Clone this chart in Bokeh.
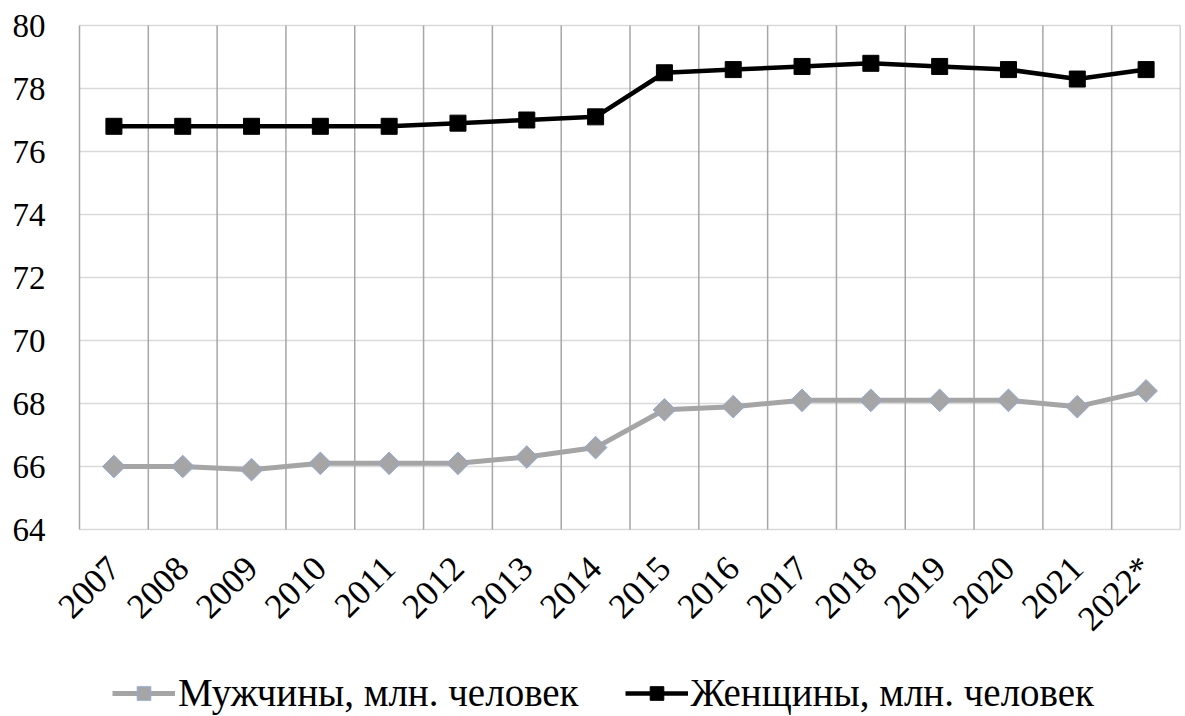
import numpy as np
from bokeh.plotting import figure
from bokeh.models import FixedTicker, Range1d, Legend, LegendItem, LinearAxis
from bokeh.embed import file_html
from bokeh.resources import INLINE

years = ["2007", "2008", "2009", "2010", "2011", "2012", "2013", "2014",
         "2015", "2016", "2017", "2018", "2019", "2020", "2021", "2022*"]
men = [66.0, 66.0, 65.9, 66.1, 66.1, 66.1, 66.3, 66.6,
       67.8, 67.9, 68.1, 68.1, 68.1, 68.1, 67.9, 68.4]
women = [76.8, 76.8, 76.8, 76.8, 76.8, 76.9, 77.0, 77.1,
         78.5, 78.6, 78.7, 78.8, 78.7, 78.6, 78.3, 78.6]
y_ticks = [64, 66, 68, 70, 72, 74, 76, 78, 80]

n = len(years)
x = [i + 0.5 for i in range(n)]
bounds = list(range(n + 1))
y_lo, y_hi = y_ticks[0], y_ticks[-1]
FONT = "Times New Roman, Liberation Serif, DejaVu Serif, serif"

# The frame covers the whole picture so that tick labels and the legend are
# drawn inside it; the value area is 1101 x 504 px starting at (79, 25).
PXU_X = 1101 / n
PXU_Y = 504 / (y_hi - y_lo)
FRAME_W, FRAME_H = 1180, 716
x_start = n - FRAME_W / PXU_X
y_end = y_hi + 25 / PXU_Y
y_start = y_end - FRAME_H / PXU_Y

p = figure(output_backend="svg", toolbar_location=None,
           x_range=Range1d(x_start, n), y_range=Range1d(y_start, y_end),
           frame_width=FRAME_W, frame_height=FRAME_H,
           x_axis_location=None, y_axis_location=None,
           min_border_left=0, min_border_top=0, min_border_right=5,
           min_border_bottom=0)
p.outline_line_color = None
p.background_fill_color = "white"
p.border_fill_color = "white"
p.grid.visible = False

xaxis = LinearAxis(fixed_location=y_lo, ticker=FixedTicker(ticks=x),
                   major_label_overrides={xi: y for xi, y in zip(x, years)},
                   major_label_orientation=np.pi / 4)
yaxis = LinearAxis(fixed_location=0, ticker=FixedTicker(ticks=y_ticks))
p.add_layout(xaxis, "below")
p.add_layout(yaxis, "left")
for ax in (xaxis, yaxis):
    ax.axis_line_color = None
    ax.major_tick_line_color = None
    ax.minor_tick_line_color = None
    ax.major_tick_out = 0
    ax.major_tick_in = 0
    ax.major_label_text_font = FONT
    ax.major_label_text_color = "#000000"
xaxis.major_label_text_font_size = "35px"
yaxis.major_label_text_font_size = "33px"
yaxis.major_label_standoff = 34
xaxis.major_label_standoff = 33

# grid lines limited to the value area
p.segment(x0=[0] * len(y_ticks), y0=y_ticks, x1=[n] * len(y_ticks), y1=y_ticks,
          line_color="#d9d9d9", line_width=1.5)
p.segment(x0=bounds, y0=[y_lo] * len(bounds), x1=bounds, y1=[y_hi] * len(bounds),
          line_color="#a6a6a6", line_width=1.5)

# series
l_men = p.line(x, men, line_color="#a5a5a5", line_width=5)
m_men = p.scatter(x, men, marker="square", angle=np.pi / 4, size=16,
                  fill_color="#a5a5a5", line_color="#8faadc", line_width=1)
l_wom = p.line(x, women, line_color="#000000", line_width=4.5)
m_wom = p.scatter(x, women, marker="square", size=16,
                  fill_color="#000000", line_color="#000000")

legend = Legend(items=[
    LegendItem(label="Мужчины, млн. человек", renderers=[l_men, m_men]),
    LegendItem(label="Женщины, млн. человек", renderers=[l_wom, m_wom]),
], orientation="horizontal", location=(112, 1))
legend.label_text_font = FONT
legend.label_text_font_size = "39px"
legend.label_text_color = "#000000"
legend.glyph_width = 63
legend.glyph_height = 34
legend.spacing = 46
legend.label_standoff = 3
legend.padding = 4
legend.border_line_color = None
legend.background_fill_alpha = 0
p.add_layout(legend, "center")

open("out.html", "w").write(file_html(p, INLINE))
